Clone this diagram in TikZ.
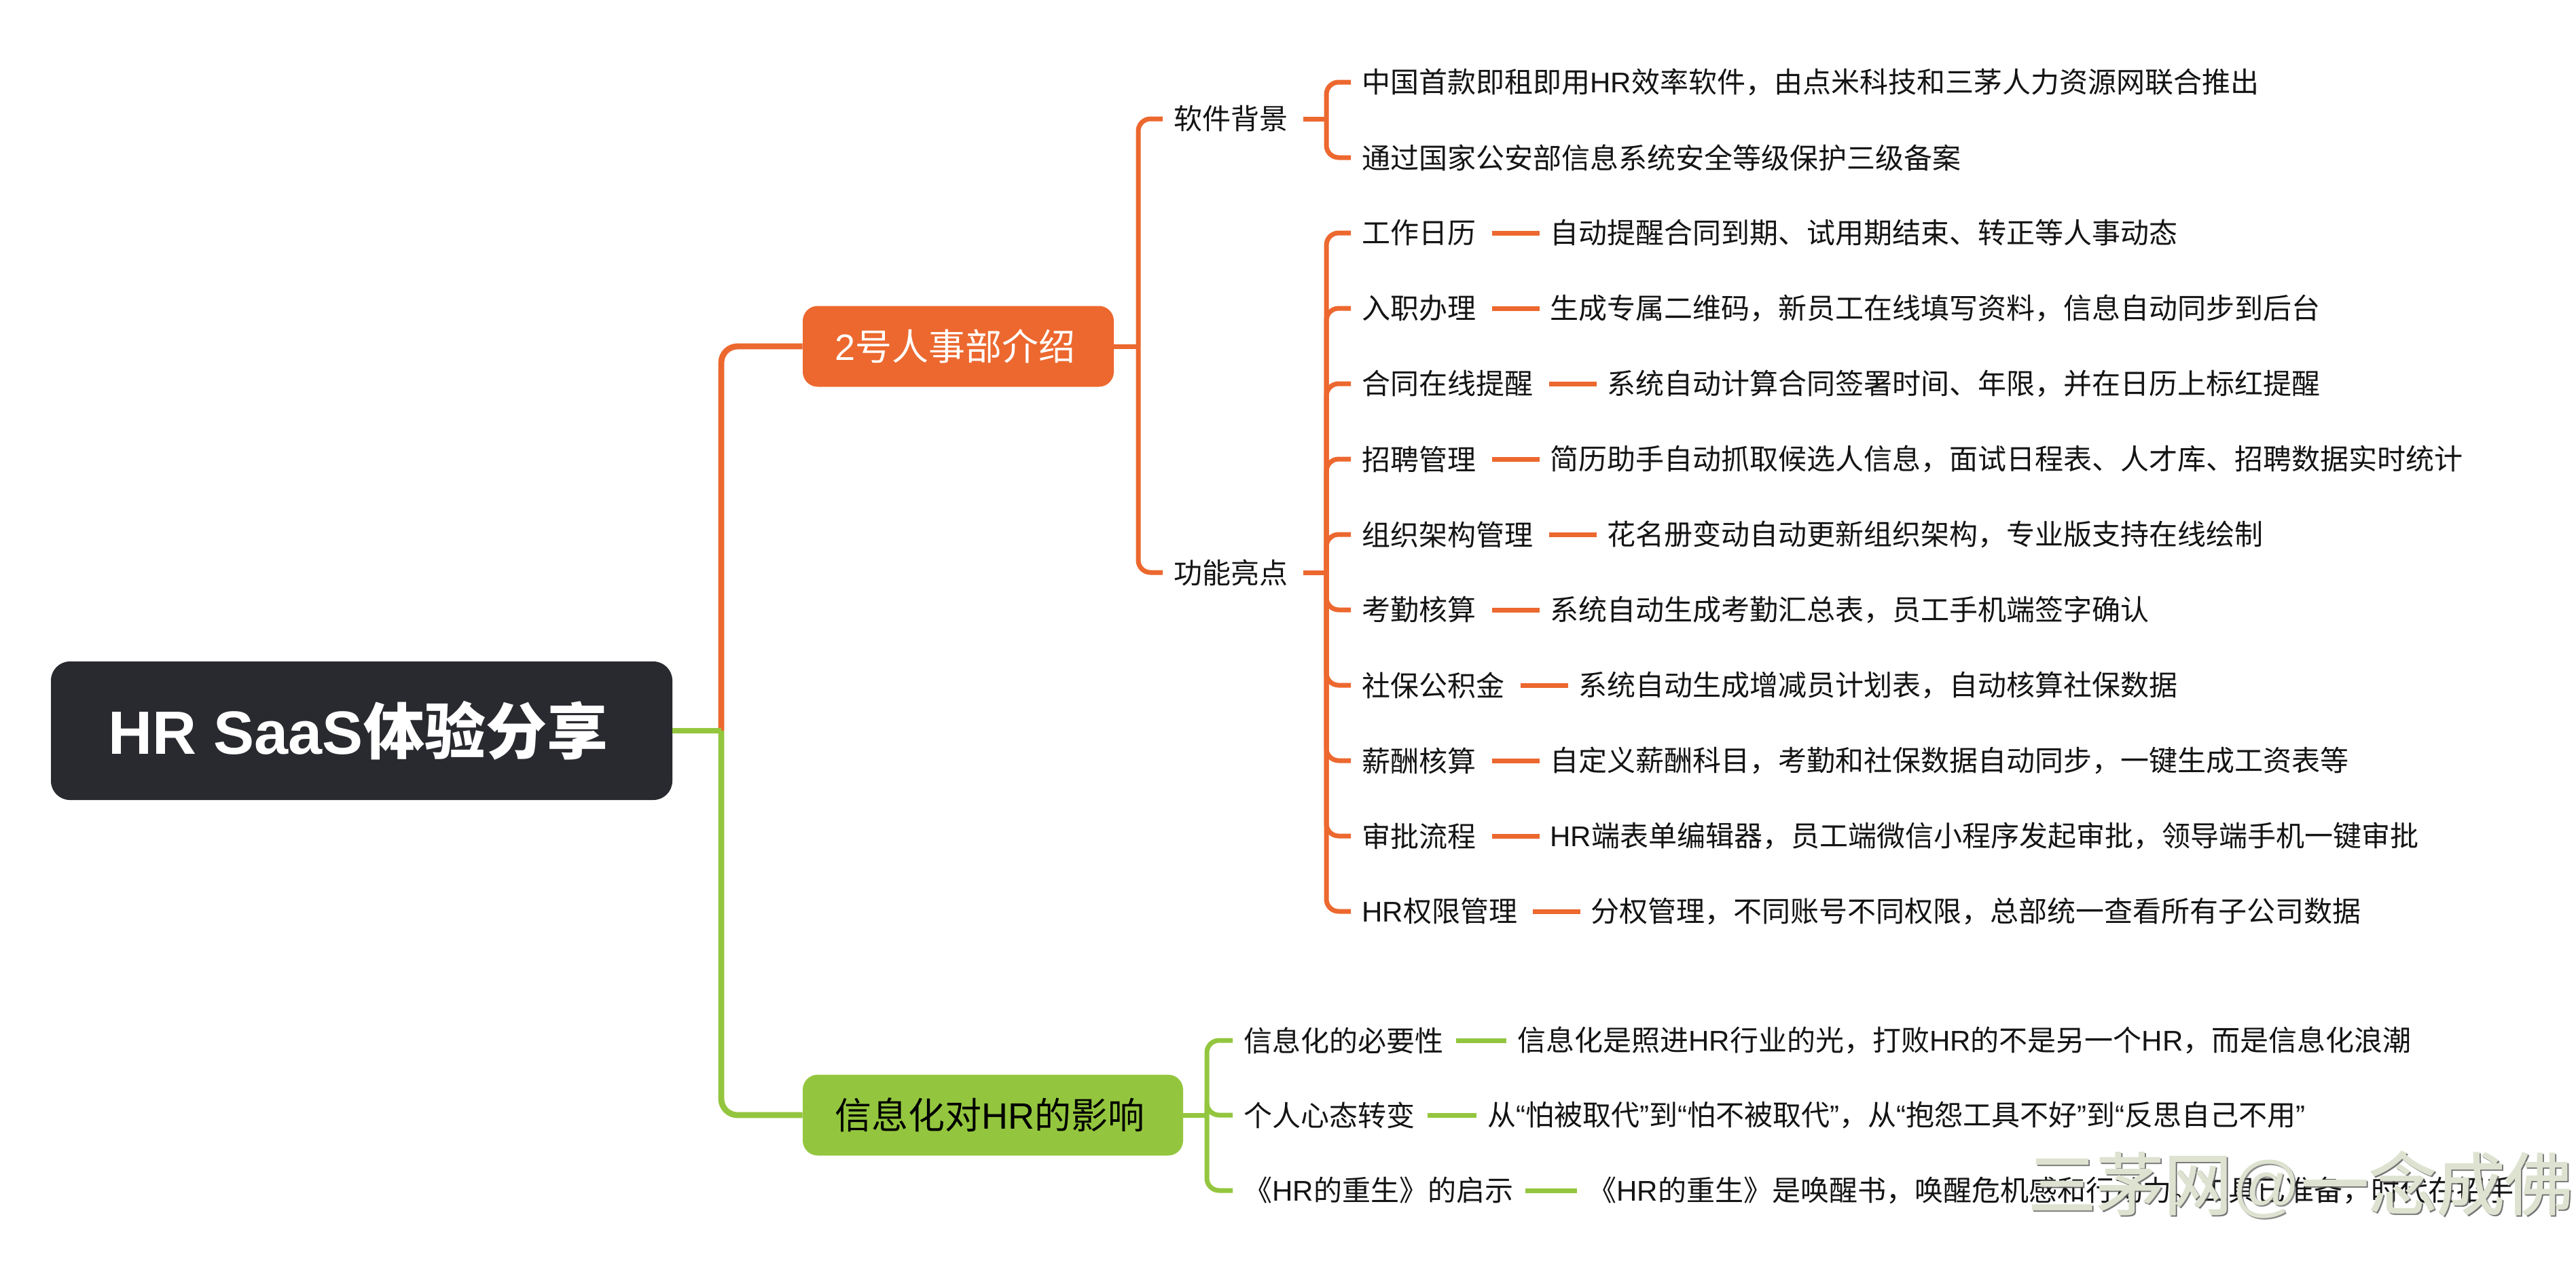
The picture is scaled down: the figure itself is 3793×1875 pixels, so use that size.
\documentclass[tikz,border=0pt]{standalone}
\usepackage{fontspec}
\setmainfont{Noto Sans CJK SC}
\newfontfamily\latf{Liberation Sans}
\newfontfamily\markf[FakeBold=1.5]{Noto Sans CJK SC}
\newfontfamily\marklat{Liberation Sans}
\newcommand{\lat}[1]{{\latf #1}}
\definecolor{orangeB}{HTML}{EC682F}
\definecolor{greenB}{HTML}{93C63E}
\definecolor{rootC}{HTML}{282A2F}
\definecolor{markC}{HTML}{DDE3D0}
\newcommand{\marktext}{三茅网{\marklat @}一念成佛}
\tikzset{
  x=0.5pt,y=-0.5pt,
  rootbox/.style={rectangle,rounded corners=14pt,fill=rootC,text=white,font=\fontsize{45}{50}\selectfont\bfseries,minimum width=457.5pt,minimum height=102pt,inner sep=0pt},
  mainbox/.style={rectangle,rounded corners=11pt,minimum height=59.5pt,inner sep=0pt,font=\fontsize{27}{30}\selectfont},
  label/.style={anchor=west,inner sep=0pt,text=black!92,font=\fontsize{21}{24}\selectfont},
  oline/.style={draw=orangeB,line width=3.5pt,rounded corners=9pt},
  gline/.style={draw=greenB,line width=3.5pt,rounded corners=9pt},
  otrunk/.style={draw=orangeB,line width=4.4pt,rounded corners=12pt},
  gtrunk/.style={draw=greenB,line width=4.4pt,rounded corners=12pt},
  markstyle/.style={anchor=west,inner sep=0pt,font=\fontsize{50}{55}\selectfont\markf},
}
\begin{document}
\begin{tikzpicture}
\useasboundingbox (0,0) rectangle (3793,1875);
\fill[white] (0,0) rectangle (3793,1875);

\coordinate (tr) at (1062,1076);
\coordinate (otr) at (1676,510);
\coordinate (ovb) at (1953,175);
\coordinate (ovf) at (1953,843);
\coordinate (gtr) at (1777,1642);

% root and first level
\node[rootbox] (root) at (532.5,1076) {\hspace*{-5pt}\lat{HR SaaS}体验分享};
\node[mainbox,fill=orangeB,text=white,minimum width=229pt] (ob) at (1411,510) {\hspace*{-5pt}\lat{2}号人事部介绍};
\node[mainbox,fill=greenB,text=black,minimum width=280pt] (gb) at (1462,1642) {\hspace*{-5pt}信息化对\lat{HR}的影响};

% second level, orange
\node[label] (s1) at (1728,175) {软件背景};
\node[label] (s2) at (1728,843) {功能亮点};
\foreach \nm/\yy/\tx in {
 a1/121/{中国首款即租即用\lat{HR}效率软件，由点米科技和三茅人力资源网联合推出},
 a2/232/{通过国家公安部信息系统安全等级保护三级备案}}
  {\node[label] (\nm) at (2005,\yy) {\tx};}

\foreach \nm/\yy/\tx/\dtx/\dx in {
 b1/343/{工作日历}/{自动提醒合同到期、试用期结束、转正等人事动态}/2282,
 b2/454/{入职办理}/{生成专属二维码，新员工在线填写资料，信息自动同步到后台}/2282,
 b3/565/{合同在线提醒}/{系统自动计算合同签署时间、年限，并在日历上标红提醒}/2366,
 b4/676/{招聘管理}/{简历助手自动抓取候选人信息，面试日程表、人才库、招聘数据实时统计}/2282,
 b5/787/{组织架构管理}/{花名册变动自动更新组织架构，专业版支持在线绘制}/2366,
 b6/898/{考勤核算}/{系统自动生成考勤汇总表，员工手机端签字确认}/2282,
 b7/1009/{社保公积金}/{系统自动生成增减员计划表，自动核算社保数据}/2324,
 b8/1120/{薪酬核算}/{自定义薪酬科目，考勤和社保数据自动同步，一键生成工资表等}/2282,
 b9/1231/{审批流程}/{\lat{HR}端表单编辑器，员工端微信小程序发起审批，领导端手机一键审批}/2282,
 b10/1342/{\lat{HR}权限管理}/{分权管理，不同账号不同权限，总部统一查看所有子公司数据}/2342}
 {
  \node[label] (\nm) at (2005,\yy) {\tx};
  \node[label] (\nm d) at (\dx,\yy) {\dtx};
  \draw[oline] ([xshift=11.5pt]\nm.east) -- ([xshift=-7.5pt]\nm d.west);
  \draw[oline] (ovf) |- ([xshift=-8pt]\nm.west);
 }

% orange connectors
\draw[oline] (ob.east) -- (otr);
\draw[oline] (otr) |- ([xshift=-8pt]s1.west);
\draw[oline] (otr) |- ([xshift=-8pt]s2.west);
\draw[oline] ([xshift=11pt]s1.east) -- (ovb);
\draw[oline] ([xshift=11pt]s2.east) -- (ovf);
\draw[oline] (ovb) |- ([xshift=-8pt]a1.west);
\draw[oline] (ovb) |- ([xshift=-8pt]a2.west);

% root connectors
\draw[otrunk] (tr) |- (ob.west);
\draw[gtrunk] (tr) |- (gb.west);
\draw[gtrunk] (root.east) -- (tr);

% green subtree
\foreach \nm/\yy/\tx/\dtx/\dx in {
 c1/1532/{信息化的必要性}/{信息化是照进\lat{HR}行业的光，打败\lat{HR}的不是另一个\lat{HR}，而是信息化浪潮}/2234,
 c2/1642/{个人心态转变}/{从\lat{“}怕被取代\lat{”}到\lat{“}怕不被取代\lat{”}，从\lat{“}抱怨工具不好\lat{”}到\lat{“}反思自己不用\lat{”}}/2190,
 c3/1753/{《\lat{HR}的重生》的启示}/{《\lat{HR}的重生》是唤醒书，唤醒危机感和行动力。工具已准备，时代在招手}/2338}
 {
  \node[label] (\nm) at (1831,\yy) {\tx};
  \node[label] (\nm d) at (\dx,\yy) {\dtx};
  \draw[gline] ([xshift=9pt]\nm.east) -- ([xshift=-8pt]\nm d.west);
  \draw[gline] (gtr) |- ([xshift=-8pt]\nm.west);
 }
\draw[gline] (gb.east) -- (gtr);

% watermark (with its slight drop shadow)
\node[markstyle,text=black!65,opacity=0.7] (wmsh) at (2988,1747) {\marktext};
\node[markstyle,text=markC] (wm) at (2986,1745) {\marktext};
\end{tikzpicture}
\end{document}
